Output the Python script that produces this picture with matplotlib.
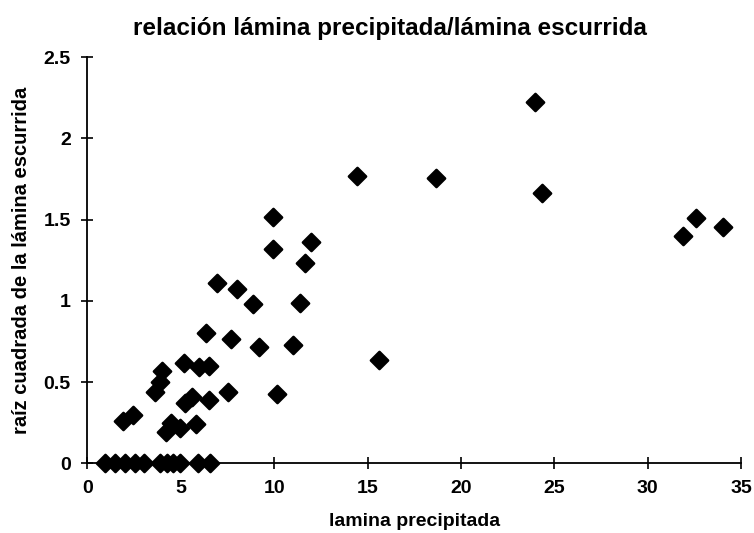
import matplotlib
matplotlib.use("Agg")
import matplotlib.pyplot as plt
from matplotlib.markers import MarkerStyle

# lamina precipitada (x) vs raiz cuadrada de la lamina escurrida (y)
zeros_x = [0.95, 1.47, 2.0, 2.54, 3.02, 3.88, 4.24, 4.59, 4.95, 5.93, 6.56]
lamina_x = zeros_x + [
    1.92, 2.45, 3.61, 3.88, 3.97, 4.2, 4.45, 4.95, 5.8,
    5.22, 5.58, 5.17, 5.99, 6.52, 6.52, 6.34,
    6.91, 8.02, 8.84, 7.66, 7.5, 9.18, 9.91, 9.95, 10.13,
    11.0, 11.4, 11.64, 11.98, 14.41, 15.6, 18.66, 23.96, 24.35,
    31.86, 32.58, 34.04,
]
raiz_y = [0.0] * len(zeros_x) + [
    0.26, 0.30, 0.44, 0.50, 0.57, 0.19, 0.25, 0.22, 0.24,
    0.37, 0.41, 0.62, 0.59, 0.60, 0.39, 0.80,
    1.107, 1.07, 0.98, 0.763, 0.44, 0.713, 1.513, 1.316, 0.426,
    0.73, 0.984, 1.23, 1.363, 1.767, 0.635, 1.753, 2.224, 1.664,
    1.398, 1.51, 1.455,
]

x_ticks = [0, 5, 10, 15, 20, 25, 30, 35]
y_ticks = [0, 0.5, 1, 1.5, 2, 2.5]
y_tick_labels = ["0", "0.5", "1", "1.5", "2", "2.5"]

plt.rcParams["font.family"] = ["Liberation Sans", "DejaVu Sans"]
plt.rcParams["font.weight"] = "bold"

fig = plt.figure(figsize=(7.54, 5.33), dpi=100)
ax = fig.add_axes([0.116, 0.1308, 0.867, 0.7622])

diamond = MarkerStyle("D", joinstyle="round")
ax.scatter(lamina_x, raiz_y, marker=diamond, s=8.8 ** 2, c="black",
           edgecolors="black", linewidths=1.8, zorder=3, clip_on=False)

ax.set_xlim(0, 35)
ax.set_ylim(0, 2.5)
ax.set_xticks(x_ticks)
ax.set_yticks(y_ticks)
ax.set_yticklabels(y_tick_labels)
ax.tick_params(direction="inout", length=8, width=1.2, labelsize=14, pad=8)
for lab in ax.get_xticklabels() + ax.get_yticklabels():
    lab.set_fontweight("bold")

ax.spines["top"].set_visible(False)
ax.spines["right"].set_visible(False)
ax.spines["left"].set_linewidth(1.3)
ax.spines["bottom"].set_linewidth(1.3)

fig.text(0.517, 0.947, "relación lámina precipitada/lámina escurrida",
         ha="center", va="center", fontsize=17.5, fontweight="bold")
fig.text(0.55, 0.021, "lamina precipitada", ha="center", va="center",
         fontsize=14, fontweight="bold")
fig.text(0.029, 0.512, "raíz cuadrada de la lámina escurrida", ha="center",
         va="center", rotation=90, fontsize=14.5, fontweight="bold")

fig.savefig("out.png", dpi=100, facecolor="white")
